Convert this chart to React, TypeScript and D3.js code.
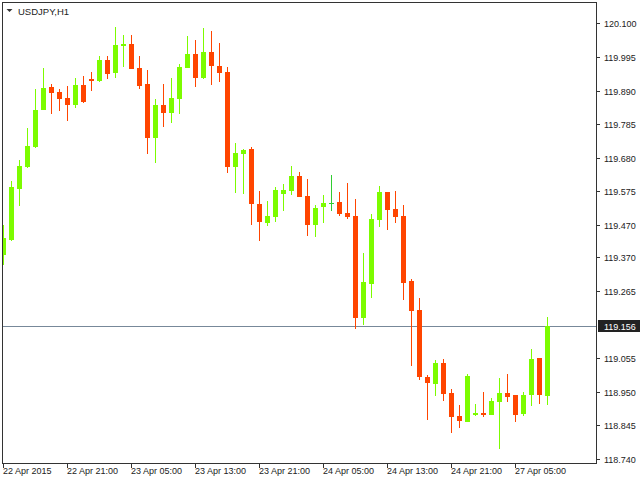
import React from "react";
import * as d3 from "d3";

const symbolTitle = "USDJPY,H1";

// OHLC per hourly bar, starting 22 Apr 2015 13:00
const opens = [
  119.377, 119.424, 119.583, 119.652, 119.714, 119.829, 119.901, 119.886, 119.867, 119.845,
  119.907, 119.926, 119.920, 119.985, 119.945, 120.029, 120.035, 119.961, 119.911, 119.742,
  119.845, 119.820, 119.864, 119.961, 120.004, 119.929, 120.010, 119.967, 119.948, 119.652,
  119.692, 119.708, 119.536, 119.477, 119.495, 119.567, 119.577, 119.623, 119.561, 119.470,
  119.527, 119.538, 119.542, 119.508, 119.499, 119.180, 119.286, 119.486, 119.574, 119.520,
  119.499, 119.296, 119.205, 118.996, 118.974, 119.040, 118.946, 118.874, 118.856, 118.877,
  118.884, 118.877, 118.918, 118.946, 118.940, 118.881, 118.940, 119.055, 118.937,
];
const highs = [
  119.470, 119.607, 119.673, 119.773, 119.895, 119.961, 119.911, 119.895, 119.904, 119.929,
  119.935, 119.948, 119.998, 119.998, 120.088, 120.063, 120.063, 119.998, 119.954, 119.864,
  119.911, 119.929, 119.973, 120.060, 120.048, 120.085, 120.076, 120.039, 119.964, 119.726,
  119.708, 119.714, 119.577, 119.545, 119.589, 119.598, 119.655, 119.636, 119.614, 119.533,
  119.564, 119.627, 119.574, 119.602, 119.552, 119.383, 119.505, 119.592, 119.574, 119.577,
  119.533, 119.302, 119.243, 119.002, 119.049, 119.052, 118.959, 118.909, 119.005, 118.912,
  118.949, 118.931, 118.993, 119.005, 118.940, 118.949, 119.083, 119.055, 119.183,
];
const lows = [
  119.346, 119.422, 119.530, 119.648, 119.711, 119.828, 119.817, 119.826, 119.795, 119.836,
  119.852, 119.889, 119.917, 119.926, 119.929, 119.964, 119.957, 119.895, 119.692, 119.664,
  119.776, 119.789, 119.817, 119.961, 119.901, 119.926, 119.907, 119.917, 119.633, 119.570,
  119.567, 119.470, 119.421, 119.467, 119.480, 119.514, 119.564, 119.558, 119.436, 119.433,
  119.477, 119.514, 119.499, 119.489, 119.146, 119.158, 119.243, 119.464, 119.455, 119.477,
  119.236, 119.030, 118.987, 118.862, 118.937, 118.921, 118.821, 118.837, 118.856, 118.874,
  118.871, 118.877, 118.771, 118.918, 118.856, 118.874, 118.906, 118.912, 118.909,
];
const closes = [
  119.429, 119.588, 119.655, 119.717, 119.829, 119.898, 119.882, 119.864, 119.845, 119.907,
  119.854, 119.920, 119.985, 119.942, 120.032, 120.035, 119.957, 119.904, 119.742, 119.845,
  119.820, 119.867, 119.964, 120.004, 119.929, 120.010, 119.967, 119.945, 119.652, 119.695,
  119.705, 119.536, 119.480, 119.499, 119.580, 119.580, 119.623, 119.558, 119.470, 119.524,
  119.539, 119.538, 119.505, 119.495, 119.180, 119.293, 119.489, 119.574, 119.517, 119.495,
  119.289, 119.202, 118.996, 118.977, 119.040, 118.943, 118.871, 118.859, 118.999, 118.884,
  118.877, 118.921, 118.946, 118.934, 118.877, 118.940, 119.052, 118.940, 119.156,
];

const priceTicks = [
  120.1, 119.995, 119.89, 119.785, 119.68, 119.575, 119.47, 119.37, 119.265, 119.055, 118.95, 118.845, 118.74,
];
const currentPrice = 119.156;

const timeTickBars = [0, 8, 16, 24, 32, 40, 48, 56, 64];
const timeTickLabels = [
  "22 Apr 2015", "22 Apr 21:00", "23 Apr 05:00", "23 Apr 13:00", "23 Apr 21:00",
  "24 Apr 05:00", "24 Apr 13:00", "24 Apr 21:00", "27 Apr 05:00",
];

const BULL = "#7CFC00";
const BEAR = "#FF4500";
const DOJI = "#32CD32";
const FONT = "'Liberation Sans', Arial, sans-serif";

export default function App() {
  const W = 640, H = 480;
  const left = 2.5, right = 596.5, top = 2.5, bottom = 463.5;
  const x = d3.scaleLinear().domain([0, 68]).range([3.5, 547.5]);
  const y = d3.scaleLinear().domain([118.74, 120.1]).range([459, 23.3]);
  const bodyW = 5;

  const bars = opens.map((o, i) => ({ o, h: highs[i], l: lows[i], c: closes[i], i }));
  const curY = Math.round(y(currentPrice)) + 0.5;

  return (
    <svg
      width={W}
      height={H}
      style={{ position: "fixed", left: 0, top: 0, background: "#fff" }}
      fontFamily={FONT}
    >
      <rect x={0} y={0} width={W} height={H} fill="#fff" />
      <defs>
        <clipPath id="plot">
          <rect x={3} y={3} width={593} height={460} />
        </clipPath>
      </defs>
      <g clipPath="url(#plot)" shapeRendering="crispEdges">
        <line x1={left} x2={right} y1={curY} y2={curY} stroke="#778899" strokeWidth={1} />
        {bars.map((b) => {
          const cx = x(b.i);
          const doji = Math.abs(b.o - b.c) < 0.0005;
          const color = doji ? DOJI : b.c > b.o ? BULL : BEAR;
          const yTop = y(Math.max(b.o, b.c));
          const yBot = y(Math.min(b.o, b.c));
          return (
            <g key={b.i}>
              <line x1={cx} x2={cx} y1={y(b.h)} y2={y(b.l)} stroke={color} strokeWidth={1} />
              {doji ? (
                <line x1={cx - bodyW / 2} x2={cx + bodyW / 2} y1={Math.round(yTop) + 0.5} y2={Math.round(yTop) + 0.5} stroke={color} strokeWidth={1} />
              ) : (
                <rect
                  x={cx - bodyW / 2}
                  y={Math.round(yTop)}
                  width={bodyW}
                  height={Math.max(2, Math.round(yBot) - Math.round(yTop))}
                  fill={color}
                />
              )}
            </g>
          );
        })}
      </g>
      {/* frame */}
      <rect x={left} y={top} width={right - left} height={bottom - top} fill="none" stroke="#333" strokeWidth={1} shapeRendering="crispEdges" />
      {/* title */}
      <path d="M6.5,9 L12.5,9 L9.5,12 Z" fill="#333" />
      <text x={18} y={15} fontSize={9.5} fill="#222">{symbolTitle}</text>
      {/* price axis */}
      <g shapeRendering="crispEdges">
        {priceTicks.map((p) => {
          const ty = Math.round(y(p)) + 0.5;
          return (
            <g key={p}>
              <line x1={597} x2={600} y1={ty} y2={ty} stroke="#333" />
              <text x={604} y={ty} dy="0.35em" fontSize={9} fill="#222">{p.toFixed(3)}</text>
            </g>
          );
        })}
      </g>
      {/* current price label */}
      <rect x={598} y={curY - 6.5} width={42} height={12} fill="#222" />
      <text x={604} y={curY} dy="0.35em" fontSize={9} fill="#fff">{currentPrice.toFixed(3)}</text>
      {/* time axis */}
      <g shapeRendering="crispEdges">
        {timeTickBars.map((bi, k) => {
          const tx = Math.floor(x(bi)) + 0.5;
          return (
            <g key={bi}>
              <line x1={tx} x2={tx} y1={464} y2={468} stroke="#333" />
              <text x={tx - 0.5} y={474} fontSize={9} fill="#222">{timeTickLabels[k]}</text>
            </g>
          );
        })}
      </g>
    </svg>
  );
}
